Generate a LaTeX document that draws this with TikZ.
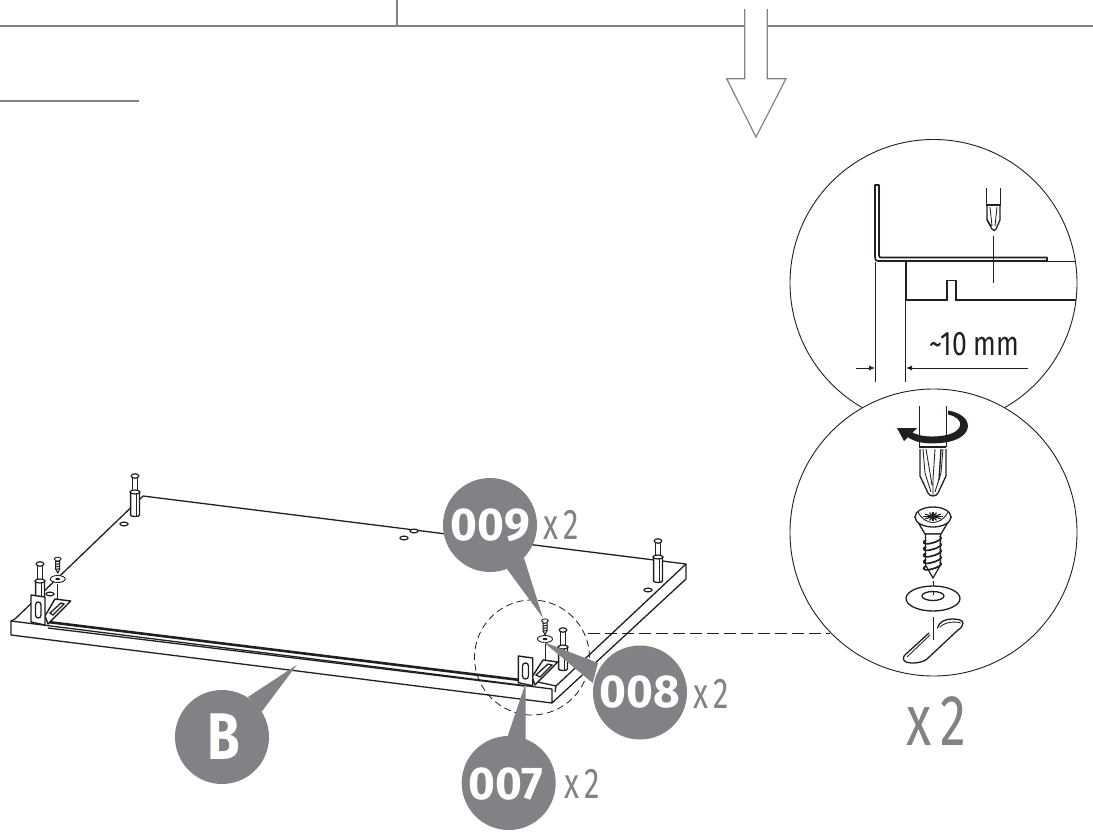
\documentclass[tikz,border=0pt]{standalone}
\usepackage{fontspec}
\usetikzlibrary{arrows.meta}
\setmainfont{Fira Sans}
\definecolor{calloutgray}{HTML}{808285}
\definecolor{inkline}{HTML}{231F20}
\tikzset{
 thin line/.style={draw=inkline,line width=0.85pt},
 med line/.style={draw=inkline,line width=1.3pt},
 thick line/.style={draw=inkline,line width=1.7pt},
 gray line/.style={draw=calloutgray,line width=1.2pt},
 callout/.style={fill=calloutgray,draw=none},
 calltext/.style={text=white,font=\fontsize{46}{46}\selectfont\bfseries,inner sep=0pt},
 qtytext/.style={text=calloutgray,font=\fontsize{43}{43}\selectfont,inner sep=0pt,anchor=west,xscale=0.72},
 hole/.style={fill=white,draw=inkline,line width=1.2pt},
 metal/.style={fill=white,draw=inkline,line width=1.4pt,line join=round},
}
\newcommand{\dowel}[4]{% x, cap y, collar y, bottom y
 \fill[white] (#1-3,#2) rectangle (#1+3,#3);
 \fill[white] (#1-4.2,#3) rectangle (#1+4.2,#4);
 \draw[med line] (#1-2.6,#2) -- (#1-2.6,#3) (#1+2.6,#2) -- (#1+2.6,#3);
 \draw[hole] (#1,#2) ellipse (3.8 and 2.2);
 \draw[med line,fill=white] (#1-4.4,#3) -- (#1-4.4,#4-1) .. controls (#1-4.4,#4+1) and (#1+4.4,#4+1) .. (#1+4.4,#4-1) -- (#1+4.4,#3);
 \draw[hole] (#1,#3) ellipse (5 and 2);
 \draw[thin line] (#1+1.5,#3+2) -- (#1+1.5,#4);
}
\newcommand{\smallscrew}[2]{% x, head y
 \draw[hole,line width=0.9pt] (#1,#2) ellipse (3.4 and 1.8);
 \draw[inkline,line width=1pt,fill=white] (#1-2,#2+1.5) -- (#1-2,#2+10) -- (#1,#2+14) -- (#1+2,#2+10) -- (#1+2,#2+1.5);
 \foreach \k in {3,5.5,8,10.5} \draw[inkline,line width=1pt] (#1-2.4,#2+\k) -- (#1+2.4,#2+\k-1);
}
\begin{document}
\begin{tikzpicture}[x=1pt,y=-1pt]
\useasboundingbox (0,0) rectangle (1093,832);
% top rules
\coordinate (r1) at (0,26); \coordinate (r2) at (744.7,26); \coordinate (r3) at (767.3,26); \coordinate (r4) at (1093,26);
\draw[gray line] (r1) -- (r2) (r3) -- (r4);
\draw[gray line] (397,0) -- (397,26);
\draw[gray line] (0,101) -- (139,101);
% hollow arrow
\draw[gray line,line join=miter] (744.7,9) -- (744.7,78.7) -- (726.7,78.7) -- (756,137) -- (786,78.7) -- (767.3,78.7) -- (767.3,9);
% board
\fill[white] (143,496) -- (686,564) -- (686,580) -- (552,703) -- (11,635) -- (11,621) -- cycle;
\draw[med line,line join=round] (143,496) -- (686,564) -- (686,579) -- (552,703) -- (11,635) -- (11,621) -- (552,689) -- (552,703);
\draw[med line] (143,496) -- (15,619) -- (11,621);
\draw[med line] (686,564) -- (556,686);
% front groove
\draw[draw=inkline,line width=2.6pt] (48,622) -- (520,680);
\draw[med line] (48,628) -- (524,686);
\draw[med line] (538,682) -- (556,686) -- (555,692);
% holes
\foreach \p in {(124,524),(50,594),(648,590),(404,538),(414,531)}
  \draw[hole] \p ellipse (4 and 1.9);
% dowels
\dowel{135}{476}{492}{516}
\dowel{658}{541}{557}{582}
\dowel{40}{564}{581}{600}
\dowel{563}{630}{647}{670}
% left hardware
\smallscrew{57.7}{559}
\draw[hole,line width=0.9pt] (57.7,579) ellipse (7.5 and 3.5);
\fill[inkline] (57.7,579) ellipse (2.4 and 1.2);
\draw[thin line] (57.7,584) -- (57.7,600);
\draw[metal] (55,599) -- (70.7,601) -- (48,624) -- (45,616) -- cycle;
\draw[med line] (61,603) -- (50,613) -- (53,615) -- (64,604) -- cycle;
\draw[metal] (31,595) -- (45,597) -- (45,625) -- (31,622) -- cycle;
\draw[med line] (35.5,605) .. controls (35.5,601) and (41,601) .. (41,605) -- (41,615) .. controls (41,619) and (35.5,619) .. (35.5,615) -- cycle;
% right hardware
\smallscrew{545}{620.7}
\draw[hole,line width=0.9pt] (545,639) ellipse (7.5 and 3.5);
\fill[inkline] (545,639) ellipse (2.4 and 1.2);
\draw[thin line] (545,644) -- (545,661);
\draw[metal] (543,660) -- (557.7,662) -- (535,685) -- (532,677) -- cycle;
\draw[med line] (548,664) -- (536,675) -- (540,677) -- (552,665) -- cycle;
\draw[metal] (518.3,656) -- (532.7,658) -- (532.7,685.7) -- (518.3,682.7) -- cycle;
\draw[med line] (522.5,666) .. controls (522.5,662) and (528.5,662) .. (528.5,666) -- (528.5,676) .. controls (528.5,680) and (522.5,680) .. (522.5,676) -- cycle;
% dashed detail circle and leader
\node[circle,draw=inkline,dash pattern=on 7pt off 4pt,line width=0.8pt,minimum size=115pt,inner sep=0pt] (detail) at (532,657.5) {};
\coordinate (detailout) at (588,633);
\coordinate (bigcircle) at (830,633);
\draw[thin line,dash pattern=on 12pt off 5pt] (detailout) -- (bigcircle);
% upper zoom circle
\node[circle,draw=inkline,line width=0.9pt,minimum size=287pt,inner sep=0pt] (up) at (933.5,283) {};
% bracket section
\draw[thick line,line join=round] (875,185) -- (875,257) .. controls (875,260) and (876,261) .. (878,261) -- (1047,261) -- (1047,257.5) -- (881,257.5) .. controls (879.5,257.5) and (879,257) .. (879,255) -- (879,185) -- cycle;
\draw[thin line] (1047,261) -- (1076,261);
\draw[thick line,line join=miter] (906,261) -- (906,300) -- (947,300) -- (947,280.5) -- (956,280.5) -- (956,300) -- (1076,300);
\draw[thin line] (875,262) -- (875,382) (905.7,300) -- (905.7,382);
\draw[thin line,-{Latex[length=6pt,width=5pt]}] (856,368) -- (875,368);
\draw[thin line,-{Latex[length=6pt,width=5pt]}] (1028,368) -- (906,368);
\node[text=inkline,font=\fontsize{34}{34}\selectfont,inner sep=0pt,xscale=0.78] (dim) at (974.5,344) {\char126 10 mm};
% small driver
\draw[med line] (986.3,188) -- (986.3,205) -- (1000.3,205) -- (1000.3,188);
\draw[med line,line join=round] (987,206) -- (987,220) -- (992,229) .. controls (993,231) and (995,231) .. (996,229) -- (1000,220) -- (1000,206);
\draw[thin line] (990,207) -- (992,226) (997,207) -- (995,226) (987,219) -- (991,226);
\draw[thin line] (993.5,236) -- (993.5,283);
% lower zoom circle
\node[circle,fill=white,draw=inkline,line width=0.9pt,minimum size=287pt,inner sep=0pt] (low) at (933.5,532.5) {};
% big driver
\draw[med line] (919.3,406) -- (919.3,447) (946.3,406) -- (946.3,447);
\draw[med line,line join=round,fill=white] (920,449) -- (920,476) -- (928,493) .. controls (930,497) and (936,497) .. (938,493) -- (946,476) -- (946,449);
\draw[thin line] (923,449) -- (925,473) -- (931,492) (943,449) -- (941,473) -- (935,492) (935,449) -- (933,480) -- (933,495) (926,449) -- (932,485);
\draw[med line] (941,449) -- (939,480);
\draw[draw=inkline,line width=1.6pt] (919.3,447) -- (946.3,447);
% rotation arrow: filled crescent
\fill[inkline] (948,410.5) .. controls (975,415) and (975,438) .. (945,442.5) .. controls (925,445) and (914,442) .. (907,436.5) -- (908,429.5) .. controls (916,436) and (928,438) .. (944,435.5) .. controls (965,432) and (965,418) .. (948,414.5) -- cycle;
\fill[inkline] (897,428) -- (917,428) -- (904,441) -- cycle;
% screw
\draw[inkline,line width=1.3pt,fill=white] (915,517) -- (925,534) -- (941,534) -- (951,517) -- cycle;
\draw[hole,line width=1.3pt] (933,517) ellipse (18 and 10);
\draw[thin line] (918,512) .. controls (925,526) and (941,526) .. (948,512);
\foreach \a in {0,30,60,90,120,150,180,210,240,270,300,330}
  \draw[draw=inkline,line width=1.2pt] (933,516.5) -- ++({\a}:{4+6*abs(cos(\a))} and 4.5);
\draw[inkline,line width=1.2pt,fill=white] (925.5,534) -- (925.5,565) -- (933,578) -- (940.5,565) -- (940.5,534) -- cycle;
\foreach \k in {537,543.5,550,556.5,563}
  \draw[inkline,line width=1.7pt] (926,\k+3) .. controls (922,\k+5) and (923,\k+8) .. (930,\k+6.5) .. controls (937,\k+5) and (944,\k+2) .. (940,\k-1);
\draw[thin line] (933,581) -- (933,592);
% washer
\draw[hole,line width=1.3pt] (933,598.5) ellipse (27 and 12.5);
\draw[hole,line width=1.3pt] (933,596) ellipse (11 and 4.5);
\draw[thin line] (933,592) -- (933,595);
% slot
\draw[med line,line join=round,line cap=round] (937.5,628) .. controls (939,622) and (945,619) .. (952,619) .. controls (958,619) and (963,620) .. (963,623) .. controls (963,626) and (961,628) .. (958,630) -- (927,659) .. controls (922,663) and (912,664) .. (906,662) .. controls (902,660) and (903,656) .. (906,654) -- (929,633);
\draw[thin line] (907,657) -- (930,635) (940,627) .. controls (945,622) and (955,621) .. (961,623);
\draw[thin line] (933,617) -- (933,640);
% qty
\node[font=\fontsize{72}{72}\selectfont,text=calloutgray,inner sep=0pt,xscale=0.72] (qtymain) at (936,721) {x\,2};
% callouts
\fill[callout] (222,737) circle (47);
\fill[callout] (248,697) -- (296.7,665) -- (261.7,711.7) -- cycle;
\node[calltext,font=\fontsize{66}{66}\selectfont\bfseries,xscale=0.8] (calloutB) at (224,737) {B};
\fill[callout] (490,525) circle (47);
\fill[callout] (507,569) -- (543,618) -- (524,558) -- cycle;
\node[calltext] (callout009) at (490.5,525) {009};
\node[qtytext] (q009) at (543,525) {x\,2};
\fill[callout] (640,692.5) circle (47);
\fill[callout] (598,663) -- (543,641.7) -- (592.7,683) -- cycle;
\node[calltext] (callout008) at (640,692.5) {008};
\node[qtytext] (q008) at (693,694) {x\,2};
\fill[callout] (508.7,783) circle (47);
\fill[callout] (507.7,736) -- (525.7,683) -- (525.7,740) -- cycle;
\node[calltext] (callout007) at (506,784) {007};
\node[qtytext] (q007) at (564,784) {x\,2};
\end{tikzpicture}
\end{document}
